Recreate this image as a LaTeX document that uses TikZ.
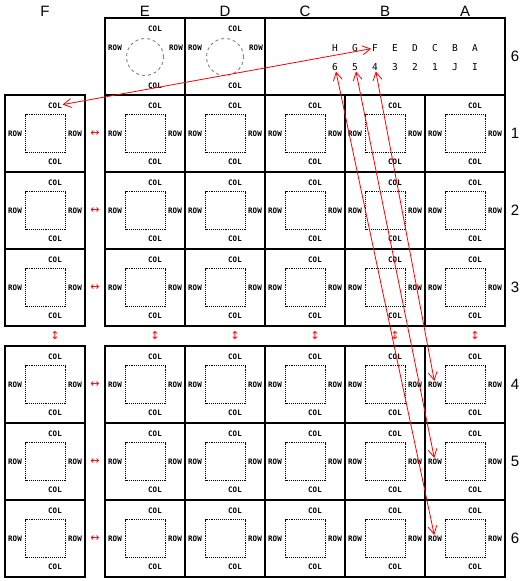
\documentclass[tikz,border=0pt]{standalone}
\usepackage{fontspec}
\setmainfont{Liberation Sans}
\newfontfamily\lblfont{DejaVu Sans Mono}
\newfontfamily\symfont{DejaVu Sans}
\usetikzlibrary{arrows.meta}
\begin{document}
\begin{tikzpicture}[x=1pt,y=-1pt,
 cellbox/.style={draw,line width=1.6pt,minimum width=80pt,minimum height=77pt,inner sep=0pt,outer sep=0pt,anchor=north west},
 lbl/.style={font=\lblfont\bfseries\fontsize{7.5}{8}\selectfont,inner sep=0.6pt},
 toplbl/.style={font=\lblfont\fontsize{9.5}{10}\selectfont,inner sep=0.8pt},
 hdr/.style={font=\fontsize{15}{16}\selectfont,inner sep=0pt},
 innersq/.style={draw,densely dotted,line width=0.9pt,minimum width=40pt,minimum height=38pt,inner sep=0pt},
 circ/.style={draw=gray,dashed,line width=0.9pt,circle,minimum size=37pt,inner sep=0pt},
 link/.style={red,line width=0.8pt,{Straight Barb[length=8pt,width=9pt]}-{Straight Barb[length=8pt,width=9pt]}},
 sym/.style={red,font=\symfont\fontsize{11}{11}\selectfont,inner sep=0pt}
]
\useasboundingbox (0,0) rectangle (526,581);
% column headers
\foreach \c/\x in {F/45,E/145,D/225,C/305,B/385,A/465}{
  \node[hdr] (h\c) at (\x,11) {\c};
}
% row numbers
\node[hdr] (n6top) at (515,56.5) {6};
\foreach \r/\y in {1/133.5,2/210.5,3/287.5,4/384.5,5/461.5,6/538.5}{
  \node[hdr] (n\r) at (515,\y) {\r};
}
% grid cells
\foreach \c/\x in {F/5,E/105,D/185,C/265,B/345,A/425}{
 \foreach \r/\y in {1/95,2/172,3/249,4/346,5/423,6/500}{
  \node[cellbox] (cell\c\r) at (\x,\y) {};
  \node[innersq] (sq\c\r) at (\x+40.5,\y+38.5) {};
  \node[lbl] (ct\c\r) at (\x+50,\y+11) {COL};
  \node[lbl] (cb\c\r) at (\x+50,\y+67) {COL};
  \node[lbl] (rl\c\r) at (\x+10,\y+38.5) {ROW};
  \node[lbl] (rr\c\r) at (\x+70,\y+38.5) {ROW};
 }
}
% top row
\foreach \c/\x in {E/105,D/185}{
  \node[cellbox] (top\c) at (\x,18) {};
  \node[circ] (circ\c) at (\x+40,57) {};
  \node[lbl] (tct\c) at (\x+50,29) {COL};
  \node[lbl] (tcb\c) at (\x+50,86) {COL};
  \node[lbl] (trl\c) at (\x+10,47.5) {ROW};
  \node[lbl] (trr\c) at (\x+71,47.5) {ROW};
}
\node[cellbox,minimum width=240pt] (topCBA) at (265,18) {};
\foreach \i/\t/\b in {1/H/6,2/G/5,3/F/4,4/E/3,5/D/2,6/C/1,7/B/J,8/A/I}{
  \node[toplbl] (tl\i) at (315+20*\i,48) {\t};
  \node[toplbl] (bl\i) at (315+20*\i,67) {\b};
}
% small red arrows
\foreach \r/\y in {1/133.5,2/210.5,3/287.5,4/384.5,5/461.5,6/538.5}{
  \node[sym] (lr\r) at (95,\y) {↔};
}
\foreach \c/\x in {F/55,E/155,D/235,C/315,B/395,A/475}{
  \node[sym] (ud\c) at (\x,336) {↕};
}
% red links
\draw[link] (ctF1) -- (tl3);
\draw[link] (bl3) -- (rlA4);
\draw[link] (bl2) -- (rlA5);
\draw[link] (bl1) -- (rlA6);
\end{tikzpicture}
\end{document}
